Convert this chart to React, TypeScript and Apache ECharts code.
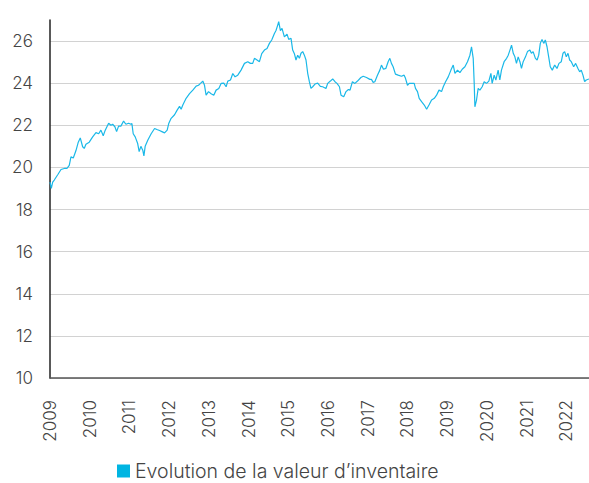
import React, { useEffect, useRef } from "react";
import * as echarts from "echarts";

const seriesName = "Evolution de la valeur d’inventaire";

const dates: number[] = [
  2009.0, 2009.033, 2009.068, 2009.108, 2009.194, 2009.277, 2009.36, 2009.427, 2009.485, 2009.528,
  2009.586, 2009.654, 2009.712, 2009.762, 2009.822, 2009.862, 2009.905, 2009.988, 2010.074, 2010.157,
  2010.225, 2010.282, 2010.34, 2010.391, 2010.476, 2010.534, 2010.577, 2010.634, 2010.677, 2010.727,
  2010.785, 2010.853, 2010.911, 2010.979, 2011.037, 2011.062, 2011.095, 2011.145, 2011.205, 2011.245,
  2011.288, 2011.338, 2011.364, 2011.396, 2011.464, 2011.547, 2011.633, 2011.691, 2011.758, 2011.816,
  2011.884, 2011.95, 2011.992, 2012.05, 2012.136, 2012.201, 2012.261, 2012.302, 2012.344, 2012.427,
  2012.513, 2012.596, 2012.679, 2012.739, 2012.789, 2012.847, 2012.89, 2012.93, 2012.991, 2013.056,
  2013.123, 2013.182, 2013.25, 2013.308, 2013.375, 2013.434, 2013.476, 2013.544, 2013.602, 2013.659,
  2013.727, 2013.81, 2013.896, 2013.979, 2014.046, 2014.104, 2014.147, 2014.212, 2014.273, 2014.331,
  2014.398, 2014.464, 2014.524, 2014.582, 2014.65, 2014.69, 2014.733, 2014.758, 2014.801, 2014.841,
  2014.901, 2014.967, 2015.01, 2015.068, 2015.11, 2015.153, 2015.193, 2015.236, 2015.279, 2015.319,
  2015.362, 2015.404, 2015.445, 2015.488, 2015.53, 2015.57, 2015.613, 2015.671, 2015.739, 2015.807,
  2015.865, 2015.948, 2015.991, 2016.059, 2016.117, 2016.175, 2016.225, 2016.287, 2016.327, 2016.395,
  2016.453, 2016.513, 2016.554, 2016.614, 2016.676, 2016.742, 2016.827, 2016.885, 2016.968, 2017.053,
  2017.093, 2017.136, 2017.178, 2017.244, 2017.304, 2017.345, 2017.395, 2017.455, 2017.513, 2017.556,
  2017.596, 2017.639, 2017.697, 2017.765, 2017.848, 2017.916, 2017.95, 2018.0, 2018.043, 2018.101,
  2018.169, 2018.202, 2018.252, 2018.295, 2018.355, 2018.423, 2018.482, 2018.541, 2018.607, 2018.675,
  2018.732, 2018.793, 2018.858, 2018.901, 2018.959, 2019.026, 2019.094, 2019.152, 2019.195, 2019.26,
  2019.32, 2019.378, 2019.446, 2019.511, 2019.572, 2019.612, 2019.655, 2019.68, 2019.697, 2019.738,
  2019.78, 2019.823, 2019.881, 2019.931, 2019.989, 2020.049, 2020.1, 2020.132, 2020.183, 2020.225,
  2020.282, 2020.325, 2020.366, 2020.433, 2020.496, 2020.537, 2020.58, 2020.62, 2020.663, 2020.704,
  2020.744, 2020.787, 2020.83, 2020.87, 2020.913, 2020.971, 2021.021, 2021.081, 2021.121, 2021.163,
  2021.221, 2021.264, 2021.304, 2021.344, 2021.387, 2021.43, 2021.47, 2021.513, 2021.555, 2021.595,
  2021.646, 2021.706, 2021.764, 2021.814, 2021.872, 2021.915, 2021.957, 2021.998, 2022.041, 2022.083,
  2022.124, 2022.184, 2022.234, 2022.292, 2022.335, 2022.375, 2022.418, 2022.46, 2022.5, 2022.57,
];

const values: number[] = [
  19.3, 19.0, 19.3, 19.4, 19.65, 19.9, 19.95, 19.95, 20.1, 20.5,
  20.45, 20.8, 21.2, 21.4, 20.98, 20.9, 21.1, 21.2, 21.45, 21.65,
  21.6, 21.77, 21.5, 21.77, 22.1, 22.0, 22.05, 21.93, 21.7, 21.96,
  21.96, 22.2, 22.05, 22.1, 22.05, 22.08, 21.6, 21.45, 21.15, 20.75,
  21.0, 20.8, 20.55, 21.0, 21.3, 21.6, 21.85, 21.8, 21.75, 21.7,
  21.64, 21.77, 22.1, 22.33, 22.5, 22.72, 22.9, 22.76, 22.96, 23.28,
  23.5, 23.67, 23.86, 23.9, 23.99, 24.1, 23.9, 23.43, 23.6, 23.5,
  23.43, 23.67, 23.75, 23.99, 24.0, 23.83, 24.1, 24.15, 24.46, 24.3,
  24.38, 24.62, 24.94, 25.02, 24.94, 24.94, 25.18, 25.1, 25.02, 25.4,
  25.57, 25.65, 25.89, 26.05, 26.36, 26.5, 26.76, 26.92, 26.5, 26.6,
  26.2, 26.33, 26.08, 26.13, 25.57, 25.4, 25.1, 25.33, 25.18, 25.42,
  25.5, 25.33, 25.1, 24.47, 24.07, 23.75, 23.83, 23.96, 24.0, 23.85,
  23.83, 23.75, 23.99, 24.1, 24.2, 24.07, 23.99, 23.83, 23.43, 23.35,
  23.6, 23.7, 23.67, 24.07, 23.99, 24.1, 24.27, 24.33, 24.27, 24.18,
  24.18, 24.04, 24.07, 24.38, 24.62, 24.86, 24.66, 24.7, 25.02, 25.18,
  24.94, 24.78, 24.43, 24.38, 24.33, 24.38, 24.23, 23.9, 23.99, 23.99,
  23.99, 23.75, 23.6, 23.28, 23.12, 22.96, 22.76, 22.96, 23.2, 23.28,
  23.43, 23.67, 23.6, 23.83, 24.07, 24.3, 24.62, 24.86, 24.47, 24.62,
  24.5, 24.66, 24.78, 25.02, 25.33, 25.73, 25.18, 23.99, 22.88, 23.2,
  23.75, 23.67, 23.83, 24.07, 23.99, 24.1, 24.47, 23.99, 24.38, 24.15,
  24.62, 24.15, 24.62, 25.02, 25.18, 25.33, 25.57, 25.81, 25.42, 25.25,
  24.94, 25.25, 25.02, 24.7, 25.02, 25.25, 25.5, 25.57, 25.42, 25.5,
  25.18, 25.1, 25.33, 25.89, 26.08, 25.89, 26.05, 25.73, 25.25, 24.78,
  24.62, 24.86, 24.7, 24.94, 25.02, 25.42, 25.5, 25.25, 25.42, 25.1,
  25.02, 24.78, 24.94, 24.7, 24.54, 24.62, 24.38, 24.07, 24.15, 24.2,
];

const yMin = 10;
const yMax = 27;
const yStep = 2;
const xMin = 2009;
const xMax = 2022.57;

const FONT = "Inter, 'Noto Sans', sans-serif";

export default function App() {
  const ref = useRef<HTMLDivElement>(null);
  useEffect(() => {
    if (!ref.current) return;
    const chart = echarts.init(ref.current, null, { renderer: "svg" });
    const data = dates.map((d, i) => [d, values[i]]);
    chart.setOption({
      animation: false,
      textStyle: { fontFamily: FONT },
      grid: { left: 50, right: 0, top: 20, bottom: 105, containLabel: false },
      legend: {
        data: [{ name: seriesName, icon: "rect" }],
        left: 117,
        top: 461,
        padding: 0,
        itemWidth: 13,
        itemHeight: 13,
        itemGap: 3,
        textStyle: { fontFamily: FONT, fontSize: 19.5, color: "#444", fontWeight: 300 },
      },
      xAxis: {
        type: "value",
        min: xMin,
        max: xMax,
        interval: 1,
        axisLine: { show: true, lineStyle: { color: "#555", width: 1.5 } },
        axisTick: { show: false },
        splitLine: { show: false },
        axisLabel: {
          rotate: 90,
          margin: 22,
          fontSize: 17,
          color: "#444",
          fontFamily: FONT,
          fontWeight: 300,
          showMaxLabel: false,
          formatter: (v: number) => String(Math.round(v)),
        },
      },
      yAxis: {
        type: "value",
        min: yMin,
        max: yMax,
        interval: yStep,
        axisLine: { show: true, lineStyle: { color: "#222", width: 1.5 } },
        axisTick: { show: false },
        splitLine: { show: true, showMaxLine: false, lineStyle: { color: "#d2d2d2", width: 1 } },
        axisLabel: {
          margin: 17,
          fontSize: 17,
          color: "#444",
          fontFamily: FONT,
          fontWeight: 300,
          showMaxLabel: false,
        },
      },
      series: [
        {
          name: seriesName,
          type: "line",
          data,
          showSymbol: false,
          symbol: "none",
          itemStyle: { color: "#00b5e2" },
          lineStyle: { color: "#1ab8e8", width: 1.2 },
        },
      ],
    });
    return () => chart.dispose();
  }, []);
  return (
    <div
      ref={ref}
      style={{ position: "absolute", left: 0, top: 0, width: 589, height: 483 }}
    />
  );
}
